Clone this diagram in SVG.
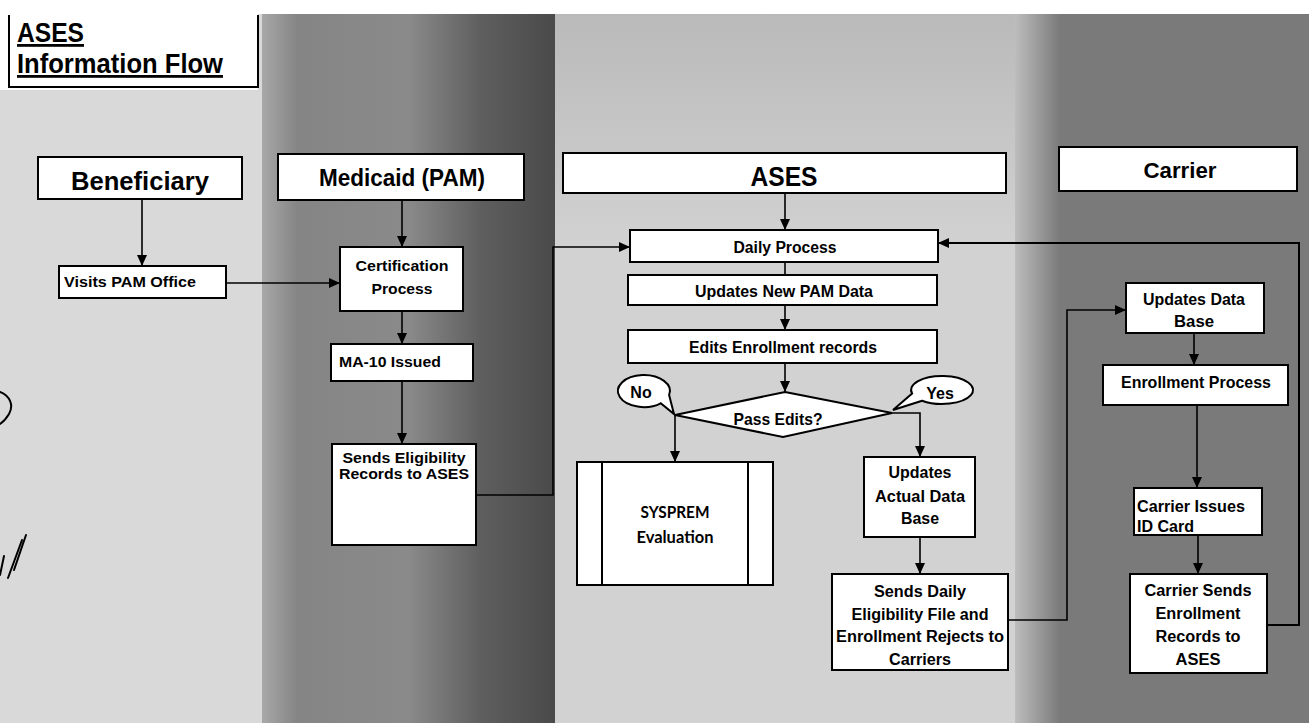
<svg xmlns="http://www.w3.org/2000/svg" width="1309" height="723" viewBox="0 0 1309 723">
<style>
text{font-family:"Liberation Sans Narrow","Liberation Sans",Arial,sans-serif;font-weight:bold;fill:#000}
.box{fill:#fff;stroke:#000;stroke-width:2}
.c{text-anchor:middle}
.f15{font-size:15px}.f16{font-size:16px}.f17{font-size:17px}
.conn{fill:none;stroke:#000;stroke-width:1.6}
.cal{font-family:Lato,"Open Sans","Liberation Sans",sans-serif}
</style>
<defs>
<marker id="ah" markerUnits="userSpaceOnUse" markerWidth="12" markerHeight="10" refX="11" refY="5" orient="auto">
<path d="M0,0 L11,5 L0,10 Z" fill="#000"/>
</marker>
<linearGradient id="gPam" x1="262" y1="0" x2="555" y2="0" gradientUnits="userSpaceOnUse">
<stop offset="0" stop-color="#a8a8a8"/><stop offset="0.12" stop-color="#858585"/><stop offset="0.5" stop-color="#8a8a8a"/><stop offset="0.75" stop-color="#5e5e5e"/><stop offset="1" stop-color="#4a4a4a"/>
</linearGradient>
<linearGradient id="gCar" x1="1015" y1="0" x2="1060" y2="0" gradientUnits="userSpaceOnUse">
<stop offset="0" stop-color="#bdbdbd"/><stop offset="1" stop-color="#7a7a7a"/>
</linearGradient>
<linearGradient id="gTop" x1="0" y1="14" x2="0" y2="250" gradientUnits="userSpaceOnUse">
<stop offset="0" stop-color="#8c8c8c" stop-opacity="0.35"/><stop offset="1" stop-color="#8c8c8c" stop-opacity="0"/>
</linearGradient>
</defs>

<g id="background">
<rect x="0" y="0" width="1309" height="723" fill="#fff"/>
<rect x="0" y="90" width="262" height="633" fill="#d9d9d9"/>
<rect x="258" y="14" width="4" height="76" fill="#d9d9d9"/>
<rect x="262" y="14" width="293" height="709" fill="url(#gPam)"/>
<rect x="555" y="14" width="465" height="709" fill="#d2d2d2"/>
<rect x="555" y="14" width="465" height="240" fill="url(#gTop)"/>
<rect x="1015" y="14" width="294" height="709" fill="url(#gCar)"/>
</g>

<g id="title">
<path d="M9,15 V87 H258 V15" fill="none" stroke="#000" stroke-width="2"/>
<text x="17" y="42" font-size="28" textLength="67" lengthAdjust="spacingAndGlyphs" text-decoration="underline">ASES</text>
<text x="17" y="73" font-size="28" textLength="206" lengthAdjust="spacingAndGlyphs" text-decoration="underline">Information Flow</text>
</g>

<g id="handmarks" fill="none" stroke="#000" stroke-width="2" stroke-linecap="round">
<path d="M0,392 C10,396 14,405 9,414 C6,419 3,422 0,424"/>
<path d="M4,556 L0,575"/>
<path d="M26,535 L14,570 M22,540 L8,578"/>
</g>

<g id="connectors" class="conn">
<path d="M142,199 V266" marker-end="url(#ah)"/>
<path d="M226,283 H340" marker-end="url(#ah)"/>
<path d="M402,200 V247" marker-end="url(#ah)"/>
<path d="M402,311 V344" marker-end="url(#ah)"/>
<path d="M402,381 V444" marker-end="url(#ah)"/>
<path d="M476,495 H553 V247 H630" marker-end="url(#ah)"/>
<path d="M785,193 V230" marker-end="url(#ah)"/>
<path d="M785,262 V275"/>
<path d="M785,305 V330" marker-end="url(#ah)"/>
<path d="M785,363 V392" marker-end="url(#ah)"/>
<path d="M675,415 V462" marker-end="url(#ah)"/>
<path d="M892,413 H920 V457" marker-end="url(#ah)"/>
<path d="M920,537 V574" marker-end="url(#ah)"/>
<path d="M1008,620 H1067 V310 H1126" marker-end="url(#ah)"/>
<path d="M1194,333 V365" marker-end="url(#ah)"/>
<path d="M1197,405 V488" marker-end="url(#ah)"/>
<path d="M1198,535 V574" marker-end="url(#ah)"/>
<path d="M1267,625 H1299 V243 H938" marker-end="url(#ah)" stroke-width="2"/>
</g>

<g id="beneficiary">
<rect class="box" x="38" y="157" width="204" height="42"/>
<text class="c" x="140" y="190" font-size="25" textLength="138" lengthAdjust="spacingAndGlyphs">Beneficiary</text>
</g>
<g id="medicaid">
<rect class="box" x="278" y="154" width="246" height="46"/>
<text class="c" x="402" y="186" font-size="24" textLength="166" lengthAdjust="spacingAndGlyphs">Medicaid (PAM)</text>
</g>
<g id="ases-header">
<rect class="box" x="563" y="153" width="443" height="40"/>
<text class="c" x="784" y="186" font-size="28" textLength="67" lengthAdjust="spacingAndGlyphs">ASES</text>
</g>
<g id="carrier-header">
<rect class="box" x="1059" y="147" width="238" height="44"/>
<text class="c" x="1180" y="178" font-size="22" textLength="73" lengthAdjust="spacingAndGlyphs">Carrier</text>
</g>

<g id="visits">
<rect class="box" x="59" y="266" width="167" height="32"/>
<text class="f15" x="64" y="287" textLength="132" lengthAdjust="spacingAndGlyphs">Visits PAM Office</text>
</g>
<g id="certification">
<rect class="box" x="340" y="247" width="123" height="64"/>
<text class="c f15" x="402" y="271" textLength="93" lengthAdjust="spacingAndGlyphs">Certification</text>
<text class="c f15" x="402" y="294" textLength="61" lengthAdjust="spacingAndGlyphs">Process</text>
</g>
<g id="ma10">
<rect class="box" x="331" y="344" width="142" height="37"/>
<text class="f15" x="339" y="367" textLength="102" lengthAdjust="spacingAndGlyphs">MA-10 Issued</text>
</g>
<g id="sends-eligibility">
<rect class="box" x="332" y="444" width="144" height="101"/>
<text class="c f15" x="404" y="463" textLength="123" lengthAdjust="spacingAndGlyphs">Sends Eligibility</text>
<text class="c f15" x="404" y="479" textLength="130" lengthAdjust="spacingAndGlyphs">Records to ASES</text>
</g>

<g id="daily-process">
<rect class="box" x="630" y="230" width="308" height="32"/>
<text class="c f16" x="785" y="253" textLength="103" lengthAdjust="spacingAndGlyphs">Daily Process</text>
</g>
<g id="updates-new-pam">
<rect class="box" x="628" y="275" width="309" height="30"/>
<text class="c f17" x="784" y="297" textLength="178" lengthAdjust="spacingAndGlyphs">Updates New PAM Data</text>
</g>
<g id="edits-enrollment">
<rect class="box" x="628" y="330" width="309" height="33"/>
<text class="c f17" x="783" y="353" textLength="188" lengthAdjust="spacingAndGlyphs">Edits Enrollment records</text>
</g>
<g id="pass-edits">
<polygon class="box" points="785,392 892,413 783,437 675,415"/>
<text class="c f17" x="778" y="425" textLength="89" lengthAdjust="spacingAndGlyphs">Pass Edits?</text>
</g>
<g id="no-callout">
<path class="box" d="M669.1,395.1 L674,414 L660.7,403.3 A26,16 0 1,1 669.1,395.1 Z"/>
<text class="c f16" x="641" y="398">No</text>
</g>
<g id="yes-callout">
<path class="box" d="M922.1,400.7 L893,410 L912.1,393.6 A31,14 0 1,1 922.1,400.7 Z"/>
<text class="c f16" x="940" y="399">Yes</text>
</g>
<g id="sysprem">
<rect class="box" x="577" y="462" width="196" height="123"/>
<line x1="602" y1="462" x2="602" y2="585" stroke="#000" stroke-width="2"/>
<line x1="748" y1="462" x2="748" y2="585" stroke="#000" stroke-width="2"/>
<text class="c f17 cal" x="675" y="518" textLength="69" lengthAdjust="spacingAndGlyphs">SYSPREM</text>
<text class="c f17 cal" x="675" y="543" textLength="77" lengthAdjust="spacingAndGlyphs">Evaluation</text>
</g>
<g id="updates-actual">
<rect class="box" x="864" y="457" width="111" height="80"/>
<text class="c f17" x="920" y="478" textLength="63" lengthAdjust="spacingAndGlyphs">Updates</text>
<text class="c f17" x="920" y="502" textLength="90" lengthAdjust="spacingAndGlyphs">Actual Data</text>
<text class="c f17" x="920" y="524" textLength="38" lengthAdjust="spacingAndGlyphs">Base</text>
</g>
<g id="sends-daily">
<rect class="box" x="832" y="574" width="176" height="96"/>
<text class="c f16" x="920" y="597" textLength="92" lengthAdjust="spacingAndGlyphs">Sends Daily</text>
<text class="c f16" x="920" y="620" textLength="137" lengthAdjust="spacingAndGlyphs">Eligibility File and</text>
<text class="c f16" x="920" y="642" textLength="168" lengthAdjust="spacingAndGlyphs">Enrollment Rejects to</text>
<text class="c f16" x="920" y="665" textLength="62" lengthAdjust="spacingAndGlyphs">Carriers</text>
</g>

<g id="updates-data-base">
<rect class="box" x="1126" y="283" width="138" height="50"/>
<text class="c f16" x="1194" y="305" textLength="102" lengthAdjust="spacingAndGlyphs">Updates Data</text>
<text class="c f16" x="1194" y="327" textLength="40" lengthAdjust="spacingAndGlyphs">Base</text>
</g>
<g id="enrollment-process">
<rect class="box" x="1103" y="365" width="185" height="40"/>
<text class="c f17" x="1196" y="388" textLength="150" lengthAdjust="spacingAndGlyphs">Enrollment Process</text>
</g>
<g id="carrier-issues">
<rect class="box" x="1134" y="488" width="128" height="47"/>
<text class="f16" x="1137" y="512" textLength="108" lengthAdjust="spacingAndGlyphs">Carrier Issues</text>
<text class="f16" x="1137" y="532" textLength="57" lengthAdjust="spacingAndGlyphs">ID Card</text>
</g>
<g id="carrier-sends">
<rect class="box" x="1130" y="574" width="137" height="99"/>
<text class="c f16" x="1198" y="596" textLength="107" lengthAdjust="spacingAndGlyphs">Carrier Sends</text>
<text class="c f16" x="1198" y="619" textLength="85" lengthAdjust="spacingAndGlyphs">Enrollment</text>
<text class="c f16" x="1198" y="642" textLength="85" lengthAdjust="spacingAndGlyphs">Records to</text>
<text class="c f16" x="1198" y="665" textLength="45" lengthAdjust="spacingAndGlyphs">ASES</text>
</g>
</svg>
